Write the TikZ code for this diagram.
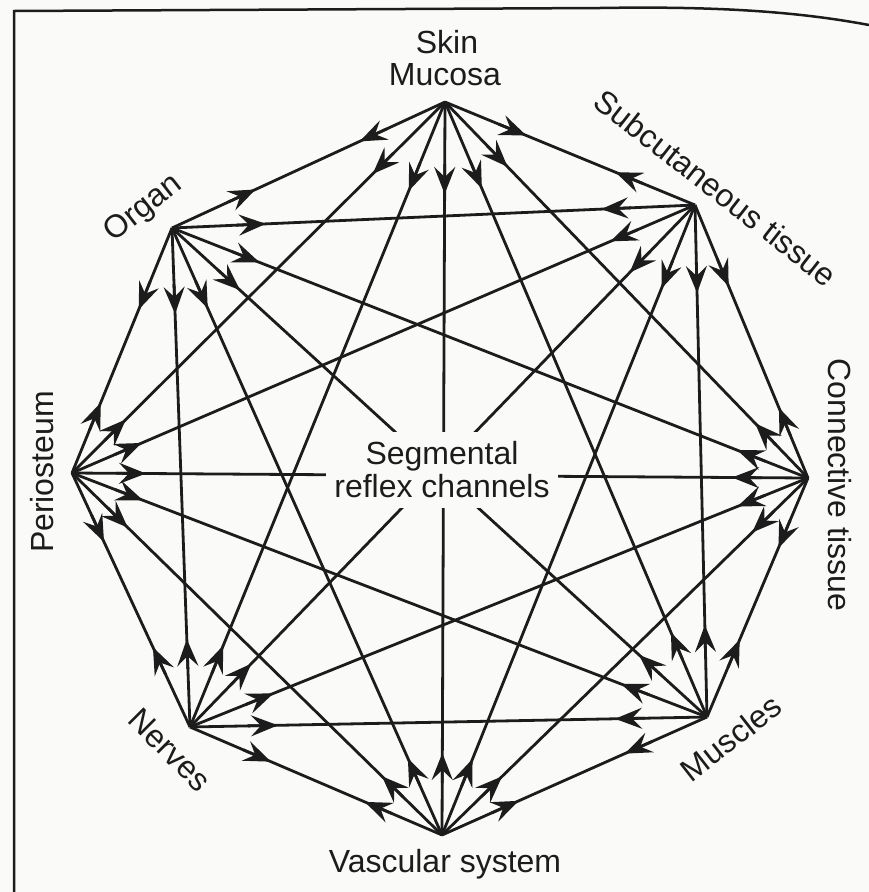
\documentclass[tikz,border=0pt]{standalone}
\usepackage{fontspec}
\setmainfont{Liberation Sans}
\usetikzlibrary{calc,arrows.meta}
\definecolor{ink}{HTML}{1C1C1C}
\definecolor{paper}{HTML}{FAFAF8}
\tikzset{
  link/.style={draw=ink,line width=2.8pt},
  arr/.style={draw=ink,line width=2.8pt,-{Stealth[length=27pt,width=21pt,inset=10pt]}},
  lbl/.style={text=ink,inner sep=0pt,font=\fontsize{32}{34}\selectfont}
}
\begin{document}
\begin{tikzpicture}[x=1pt,y=-1pt]
\useasboundingbox (0,0) rectangle (869,892);
\fill[paper] (0,0) rectangle (869,892);
% hubs
\coordinate (sk) at (445,102);
\coordinate (sc) at (695,205);
\coordinate (or) at (172,228);
\coordinate (pe) at (72,473);
\coordinate (ct) at (808,478);
\coordinate (ne) at (190,727);
\coordinate (mu) at (707,717);
\coordinate (va) at (442,835);
% connectors
\foreach \a/\b in {sk/sc,sk/or,sk/pe,sk/ct,sk/ne,sk/mu,sk/va,
                   sc/or,sc/pe,sc/ct,sc/ne,sc/mu,sc/va,
                   or/pe,or/ct,or/ne,or/mu,or/va,
                   pe/ct,pe/ne,pe/mu,pe/va,
                   ct/ne,ct/mu,ct/va,
                   ne/mu,ne/va,
                   mu/va}
  \draw[link] (\a) -- (\b);
% centre label
\node[fill=paper,minimum width=232pt,minimum height=76pt,inner sep=0pt] (seg) at (442,470) {};
\node[lbl,align=center] (segt) at (442,470) {Segmental\\[-1pt]reflex channels};
% arrowheads: each near its hub, pointing away from it
\foreach \a/\b/\da/\db in {sk/sc/88/86,sk/or/94/92,sk/pe/102/76,sk/ct/90/76,sk/ne/96/88,sk/mu/94/92,sk/va/92/82,
                   sc/or/94/94,sc/pe/92/76,sc/ct/88/76,sc/ne/94/88,sc/mu/88/92,sc/va/90/82,
                   or/pe/88/76,or/ct/94/76,or/ne/86/88,or/mu/92/92,or/va/88/84,
                   pe/ct/74/76,pe/ne/76/88,pe/mu/76/92,pe/va/78/84,
                   ct/ne/76/90,ct/mu/76/84,ct/va/78/84,
                   ne/mu/88/92,ne/va/88/84,
                   mu/va/90/84}
{
  \draw[arr] ($(\a)!{(\da-30)*1pt}!(\b)$) -- ($(\a)!{\da*1pt}!(\b)$);
  \draw[arr] ($(\b)!{(\db-30)*1pt}!(\a)$) -- ($(\b)!{\db*1pt}!(\a)$);
}
% labels
\node[lbl,anchor=base] (skin) at (447,53) {Skin};
\node[lbl,anchor=base] (muc) at (445,85) {Mucosa};
\node[lbl,rotate=38] (organ) at (144,209) {Organ};
\node[lbl,rotate=-38] (subc) at (716,188) {Subcutaneous tissue};
\node[lbl,rotate=90] (peri) at (42,472) {Periosteum};
\node[lbl,rotate=-90] (conn) at (840,485) {Connective tissue};
\node[lbl,rotate=-45] (nerv) at (170,750) {Nerves};
\node[lbl,rotate=38] (musc) at (731,738) {Muscles};
\node[lbl,anchor=base] (vasc) at (445,872) {Vascular system};
% page frame
\draw[ink,line width=2.5pt] (14,892) -- (14,11) -- (600,8) .. controls (720,6) and (800,12) .. (869,25);
\end{tikzpicture}
\end{document}
